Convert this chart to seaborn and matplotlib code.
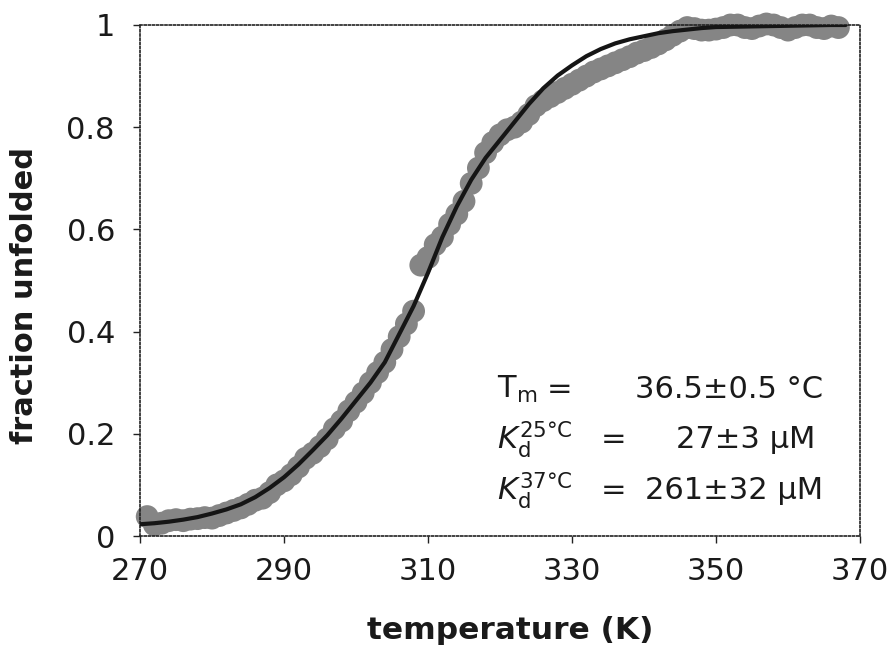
import matplotlib
matplotlib.use("Agg")
import matplotlib.pyplot as plt
import seaborn as sns
import pandas as pd

# Measured melting curve (temperature in K, fraction unfolded)
temperature = [
    271, 272, 273, 274, 275, 276, 277, 278, 279, 280,
    281, 282, 283, 284, 285, 286, 287, 288, 289, 290,
    291, 292, 293, 294, 295, 296, 297, 298, 299, 300,
    301, 302, 303, 304, 305, 306, 307, 308, 309, 310,
    311, 312, 313, 314, 315, 316, 317, 318, 319, 320,
    321, 322, 323, 324, 325, 326, 327, 328, 329, 330,
    331, 332, 333, 334, 335, 336, 337, 338, 339, 340,
    341, 342, 343, 344, 345, 346, 347, 348, 349, 350,
    351, 352, 353, 354, 355, 356, 357, 358, 359, 360,
    361, 362, 363, 364, 365, 366, 367,
]
fraction = [
    0.038, 0.022, 0.025, 0.030, 0.032, 0.030, 0.033, 0.034, 0.036, 0.035,
    0.040, 0.045, 0.050, 0.055, 0.062, 0.070, 0.074, 0.085, 0.100, 0.108,
    0.120, 0.135, 0.152, 0.162, 0.175, 0.190, 0.210, 0.225, 0.245, 0.262,
    0.280, 0.300, 0.320, 0.340, 0.365, 0.390, 0.415, 0.440, 0.530, 0.545,
    0.570, 0.585, 0.610, 0.630, 0.655, 0.690, 0.720, 0.750, 0.770, 0.785,
    0.795, 0.800, 0.810, 0.825, 0.842, 0.852, 0.860, 0.868, 0.876, 0.884,
    0.892, 0.900, 0.908, 0.914, 0.920, 0.926, 0.932, 0.938, 0.945, 0.950,
    0.956, 0.963, 0.971, 0.980, 0.988, 0.995, 0.993, 0.990, 0.990, 0.992,
    0.995, 1.000, 1.000, 0.995, 0.993, 0.998, 1.002, 1.000, 0.995, 0.990,
    0.995, 1.000, 1.000, 0.995, 0.993, 0.998, 0.995,
]

# Fitted two-state unfolding curve
fit_temperature = [
    270, 272, 274, 276, 278, 280, 282, 284, 286, 288,
    290, 292, 294, 296, 298, 300, 302, 304, 306, 308,
    310, 312, 314, 316, 318, 320, 322, 324, 326, 328,
    330, 332, 334, 336, 338, 340, 342, 344, 346, 348,
    350, 354, 358, 362, 366, 368,
]
fit_fraction = [
    0.023, 0.025, 0.028, 0.032, 0.037, 0.044, 0.052, 0.062, 0.076, 0.094,
    0.115, 0.140, 0.168, 0.197, 0.230, 0.265, 0.300, 0.340, 0.395, 0.450,
    0.515, 0.585, 0.645, 0.697, 0.740, 0.775, 0.810, 0.845, 0.876, 0.901,
    0.921, 0.939, 0.953, 0.964, 0.972, 0.978, 0.984, 0.988, 0.991, 0.994,
    0.996, 0.997, 0.998, 0.999, 1.000, 1.000,
]

x_ticks = [270, 290, 310, 330, 350, 370]
y_ticks = [0, 0.2, 0.4, 0.6, 0.8, 1.0]
y_tick_labels = ["0", "0.2", "0.4", "0.6", "0.8", "1"]

data = pd.DataFrame({"temperature": temperature, "fraction": fraction})
fit = pd.DataFrame({"temperature": fit_temperature, "fraction": fit_fraction})

sns.set_theme(style="white")
plt.rcParams["font.family"] = ["DejaVu Sans"]

fig = plt.figure(figsize=(8.93, 6.47), dpi=100)
ax = fig.add_axes([140 / 893, 111 / 647, 720 / 893, 511 / 647])

sns.scatterplot(data=data, x="temperature", y="fraction", ax=ax,
                color="#858585", s=270, edgecolor="none", linewidth=0,
                clip_on=False, zorder=2)
sns.lineplot(data=fit, x="temperature", y="fraction", ax=ax,
             color="#151515", linewidth=3.0, zorder=3)

ax.set_xlim(270, 370)
ax.set_ylim(0, 1)
ax.set_xticks(x_ticks)
ax.set_yticks(y_ticks)
ax.set_yticklabels(y_tick_labels)

for side in ["left", "right", "top", "bottom"]:
    sp = ax.spines[side]
    sp.set_visible(True)
    sp.set_color("#222222")
    sp.set_linewidth(1.2)
    sp.set_linestyle((0, (1.2, 1.3)))

ax.tick_params(axis="both", which="major", direction="out", length=5,
               width=1, color="#222222", labelsize=22, labelcolor="#1a1a1a",
               bottom=True, left=True, top=False, right=False)
ax.tick_params(axis="x", pad=10)
ax.tick_params(axis="y", pad=13)

ax.set_xlabel("temperature (K)", fontsize=22.5, fontweight="bold", color="#1a1a1a")
ax.set_ylabel("fraction unfolded", fontsize=22, fontweight="bold", color="#1a1a1a")
ax.xaxis.set_label_coords(0.514, -0.185)
ax.xaxis.label.set_va("center")
ax.yaxis.set_label_coords(-0.16, 0.47)
ax.yaxis.label.set_va("center")

# Fit parameters
txt = dict(fontsize=22, color="#1a1a1a", va="center")
ax.text(319.6, 0.286, r"T$_\mathregular{m}$", ha="left", **txt)
ax.text(328.3, 0.286, "=", ha="center", **txt)
ax.text(364.9, 0.286, "36.5\u00b10.5 \u00b0C", ha="right", **txt)

ax.text(319.6, 0.188, r"$\mathit{K}_{\mathrm{d}}^{\mathrm{25\degree C}}$", ha="left", **txt)
ax.text(335.8, 0.188, "=", ha="center", **txt)
ax.text(363.8, 0.188, "27\u00b13 \u03bcM", ha="right", **txt)

ax.text(319.6, 0.090, r"$\mathit{K}_{\mathrm{d}}^{\mathrm{37\degree C}}$", ha="left", **txt)
ax.text(335.8, 0.090, "=", ha="center", **txt)
ax.text(364.9, 0.090, "261\u00b132 \u03bcM", ha="right", **txt)

fig.savefig("out.png", dpi=100, facecolor="white")
